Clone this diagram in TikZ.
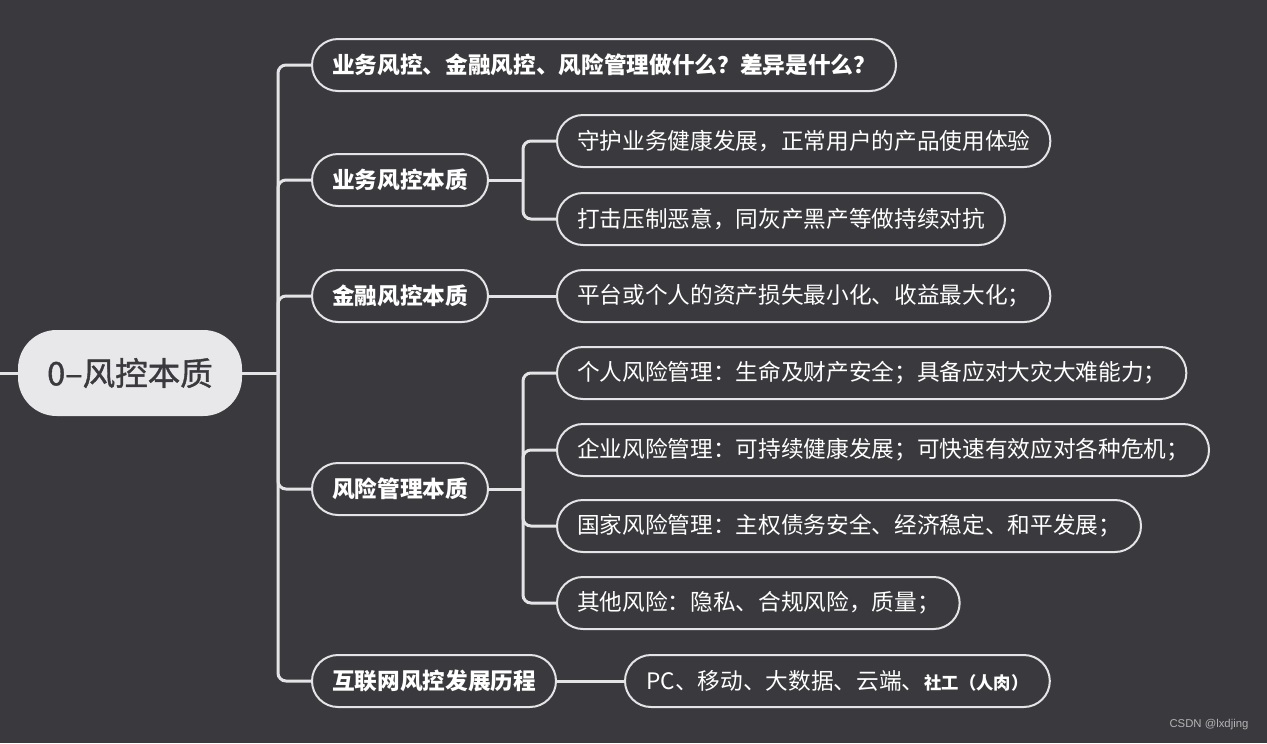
\documentclass[tikz,border=0pt]{standalone}
\usepackage{fontspec}
\setmainfont{Noto Sans CJK SC}
\newfontfamily\rootfont[FakeBold=1.2]{Noto Sans CJK SC}
\newfontfamily\wmfont{Liberation Sans}
\definecolor{bg}{HTML}{3A3A3E}
\definecolor{ln}{HTML}{E4E4E6}
\definecolor{rootfill}{HTML}{E8E8EA}
\definecolor{wmgray}{HTML}{B4B4B6}
\tikzset{
  basebox/.style={draw=ln, line width=1.5pt, rounded corners=19.5pt,
    minimum height=39pt, inner xsep=15pt, inner ysep=0pt, text=white,
    anchor=west},
  lvlone/.style={basebox, font=\fontsize{17}{20}\selectfont\bfseries},
  leafbox/.style={basebox, font=\fontsize{17}{20}\selectfont},
  rootbox/.style={fill=rootfill, draw=none, rounded corners=29pt,
    minimum width=168pt, minimum height=64.5pt, text=bg,
    font=\rootfont\fontsize{24.4}{28}\selectfont},
  conn/.style={draw=ln, line width=2.25pt, rounded corners=6pt},
}
\begin{document}
\begin{tikzpicture}[x=0.75pt,y=-0.75pt]
\fill[bg] (0,0) rectangle (1267,743);
\useasboundingbox (0,0) rectangle (1267,743);

\node[rootbox] (root) at (130,373) {0–风控本质};

\node[lvlone] (n1) at (311,65) {业务风控、金融风控、风险管理做什么？差异是什么？};
\node[lvlone] (n2) at (311,180) {业务风控本质};
\node[lvlone] (n3) at (311,296) {金融风控本质};
\node[lvlone] (n4) at (311,489) {风险管理本质};
\node[lvlone] (n5) at (311,681) {互联网风控发展历程};

\node[leafbox] (l21) at (556,141) {守护业务健康发展，正常用户的产品使用体验};
\node[leafbox] (l22) at (556,219) {打击压制恶意，同灰产黑产等做持续对抗};
\node[leafbox] (l31) at (556,296) {平台或个人的资产损失最小化、收益最大化；};
\node[leafbox] (l41) at (556,373) {个人风险管理：生命及财产安全；具备应对大灾大难能力；};
\node[leafbox] (l42) at (556,450) {企业风险管理：可持续健康发展；可快速有效应对各种危机；};
\node[leafbox] (l43) at (556,526) {国家风险管理：主权债务安全、经济稳定、和平发展；};
\node[leafbox] (l44) at (556,603) {其他风险：隐私、合规风险，质量；};
\node[leafbox, inner xsep=16pt] (l51) at (624,681) {PC、移动、大数据、云端、{\fontsize{13}{15}\selectfont\bfseries 社工（人肉）}};

\node[text=wmgray, font=\wmfont\fontsize{8.5}{10}\selectfont] (wm) at (1209,725) {CSDN @lxdjing};

\coordinate (lend) at (0,373);
\coordinate (t) at (278,373);
\coordinate (b2) at (523,180);
\coordinate (b4) at (523,489);

\draw[conn] (lend) -- (root.west);
\draw[conn] (root.east) -- (t);
\foreach \n in {n1,n2,n3,n4,n5} { \draw[conn] (t) |- (\n.west); }

\draw[conn] (n2.east) -- (b2);
\draw[conn] (b2) |- (l21.west);
\draw[conn] (b2) |- (l22.west);

\draw[conn] (n3.east) -- (l31.west);

\draw[conn] (n4.east) -- (b4);
\foreach \n in {l41,l42,l43,l44} { \draw[conn] (b4) |- (\n.west); }

\draw[conn] (n5.east) -- (l51.west);
\end{tikzpicture}
\end{document}
